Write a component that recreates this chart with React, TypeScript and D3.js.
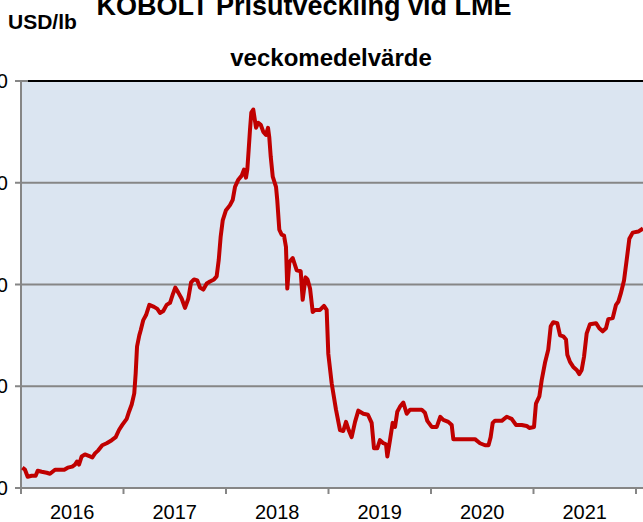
import { useRef, useEffect } from 'react';
import * as d3 from 'd3';

// decimal year of each reading
const weeks = [
  2016.013, 2016.039, 2016.065, 2016.104, 2016.143, 2016.163, 2016.202, 2016.251, 2016.283, 2016.332,
  2016.38, 2016.422, 2016.456, 2016.5, 2016.527, 2016.546, 2016.566, 2016.592, 2016.624, 2016.673,
  2016.696, 2016.722, 2016.754, 2016.793, 2016.836, 2016.885, 2016.924, 2016.956, 2016.988, 2017.031,
  2017.054, 2017.08, 2017.105, 2017.119, 2017.132, 2017.154, 2017.168, 2017.193, 2017.22, 2017.252,
  2017.298, 2017.33, 2017.356, 2017.388, 2017.421, 2017.454, 2017.48, 2017.505, 2017.535, 2017.568,
  2017.6, 2017.632, 2017.659, 2017.688, 2017.72, 2017.746, 2017.779, 2017.812, 2017.844, 2017.883,
  2017.909, 2017.929, 2017.948, 2017.968, 2018.0, 2018.039, 2018.065, 2018.088, 2018.12, 2018.153,
  2018.176, 2018.195, 2018.208, 2018.221, 2018.234, 2018.247, 2018.266, 2018.293, 2018.315, 2018.339,
  2018.364, 2018.39, 2018.41, 2018.422, 2018.436, 2018.456, 2018.488, 2018.5, 2018.52, 2018.543,
  2018.566, 2018.585, 2018.598, 2018.618, 2018.651, 2018.69, 2018.729, 2018.748, 2018.776, 2018.795,
  2018.82, 2018.846, 2018.868, 2018.917, 2018.956, 2018.982, 2018.998, 2019.031, 2019.073, 2019.112,
  2019.144, 2019.171, 2019.197, 2019.226, 2019.259, 2019.291, 2019.34, 2019.385, 2019.421, 2019.444,
  2019.476, 2019.502, 2019.535, 2019.561, 2019.574, 2019.6, 2019.626, 2019.649, 2019.671, 2019.698,
  2019.73, 2019.763, 2019.795, 2019.86, 2019.909, 2019.941, 2019.964, 2020.007, 2020.056, 2020.091,
  2020.12, 2020.169, 2020.202, 2020.218, 2020.283, 2020.429, 2020.478, 2020.527, 2020.561, 2020.582,
  2020.602, 2020.624, 2020.69, 2020.739, 2020.787, 2020.829, 2020.885, 2020.934, 2020.959, 2021.005,
  2021.024, 2021.057, 2021.08, 2021.112, 2021.144, 2021.168, 2021.193, 2021.232, 2021.259, 2021.291,
  2021.317, 2021.33, 2021.356, 2021.388, 2021.421, 2021.447, 2021.47, 2021.493, 2021.519, 2021.551,
  2021.61, 2021.642, 2021.675, 2021.707, 2021.73, 2021.773, 2021.805, 2021.827, 2021.851, 2021.883,
  2021.909, 2021.935, 2021.968, 2022.022, 2022.068,
];

// USD/lb
const price = [
  12.0, 11.8, 11.1, 11.2, 11.2, 11.7, 11.6, 11.5, 11.4, 11.8,
  11.8, 11.8, 12.0, 12.1, 12.3, 12.6, 12.3, 13.1, 13.3, 13.1,
  13.0, 13.4, 13.7, 14.2, 14.4, 14.7, 15.0, 15.7, 16.2, 16.8,
  17.5, 18.2, 19.3, 21.3, 23.9, 25.0, 25.5, 26.5, 27.0, 28.0,
  27.8, 27.6, 27.2, 27.4, 28.0, 28.2, 29.0, 29.7, 29.2, 28.6,
  27.7, 28.6, 30.2, 30.5, 30.4, 29.7, 29.5, 30.1, 30.3, 30.5,
  30.8, 32.4, 34.7, 36.3, 37.3, 37.8, 38.3, 39.6, 40.3, 40.7,
  41.3, 40.5, 41.3, 43.2, 45.2, 46.9, 47.2, 45.4, 45.9, 45.7,
  45.0, 44.7, 45.4, 44.5, 42.6, 40.6, 39.6, 38.3, 35.4, 34.9,
  34.8, 33.7, 29.6, 32.2, 32.6, 31.4, 31.3, 28.5, 30.7, 30.5,
  29.6, 27.3, 27.5, 27.5, 27.9, 27.5, 23.2, 20.3, 17.7, 15.7,
  15.6, 16.5, 15.7, 15.0, 16.5, 17.6, 17.3, 17.2, 16.4, 13.9,
  13.9, 14.7, 14.4, 14.3, 13.1, 14.7, 16.4, 16.0, 17.5, 18.0,
  18.4, 17.3, 17.7, 17.7, 17.7, 17.4, 16.6, 16.0, 16.0, 17.0,
  16.7, 16.5, 16.2, 14.8, 14.8, 14.8, 14.4, 14.2, 14.2, 15.0,
  16.4, 16.6, 16.6, 17.0, 16.8, 16.2, 16.2, 16.1, 15.9, 16.0,
  18.3, 19.0, 20.6, 22.3, 23.6, 25.9, 26.3, 26.2, 25.0, 24.9,
  24.6, 23.1, 22.4, 21.9, 21.6, 21.2, 21.6, 22.9, 25.2, 26.1,
  26.2, 25.7, 25.4, 25.7, 26.6, 26.7, 28.0, 28.3, 29.1, 30.4,
  32.4, 34.5, 35.1, 35.2, 35.5,
];

const years = ['2016', '2017', '2018', '2019', '2020', '2021'];
const yTicks = [10, 20, 30, 40, 50];

const W = 643;
const H = 522;
const plot = { left: 21, top: 81, right: 660, bottom: 488 };
const font = 'Liberation Sans, Arial, sans-serif';

const App = () => {
  const svgRef = useRef(null);

  useEffect(() => {
    const svg = d3.select(svgRef.current);
    svg.selectAll('*').remove();

    const x = d3.scaleLinear().domain([2016, 2022]).range([plot.left, 636]);
    const y = d3.scaleLinear().domain([10, 50]).range([plot.bottom, plot.top]);

    svg.append('rect').attr('width', W).attr('height', H).attr('fill', 'white');

    svg
      .append('rect')
      .attr('x', plot.left)
      .attr('y', plot.top)
      .attr('width', plot.right - plot.left)
      .attr('height', plot.bottom - plot.top)
      .attr('fill', '#dbe5f1');

    // horizontal gridlines + left ticks (labels sit mostly off the left edge, as in the source)
    yTicks.forEach((t) => {
      svg
        .append('line')
        .attr('x1', 15)
        .attr('x2', plot.right)
        .attr('y1', y(t))
        .attr('y2', y(t))
        .attr('stroke', '#868686')
        .attr('stroke-width', 2);
      svg
        .append('text')
        .attr('x', 8)
        .attr('y', y(t) + 7)
        .attr('text-anchor', 'end')
        .attr('font-family', font)
        .attr('font-size', 20)
        .attr('fill', 'black')
        .text(t);
    });

    // black top border
    svg
      .append('line')
      .attr('x1', 28)
      .attr('x2', plot.right)
      .attr('y1', plot.top)
      .attr('y2', plot.top)
      .attr('stroke', 'black')
      .attr('stroke-width', 2);

    // left axis
    svg
      .append('line')
      .attr('x1', plot.left)
      .attr('x2', plot.left)
      .attr('y1', plot.top)
      .attr('y2', plot.bottom + 6)
      .attr('stroke', '#868686')
      .attr('stroke-width', 2);

    // x ticks and year labels
    d3.range(2016, 2023).forEach((yr) => {
      svg
        .append('line')
        .attr('x1', x(yr))
        .attr('x2', x(yr))
        .attr('y1', plot.bottom)
        .attr('y2', plot.bottom + 6)
        .attr('stroke', '#868686')
        .attr('stroke-width', 2);
    });
    years.forEach((label, i) => {
      svg
        .append('text')
        .attr('x', x(2016 + i + 0.5))
        .attr('y', 519)
        .attr('text-anchor', 'middle')
        .attr('font-family', font)
        .attr('font-size', 20)
        .attr('fill', 'black')
        .text(label);
    });

    const line = d3
      .line<number>()
      .x((d) => x(d))
      .y((_, i) => y(price[i]));

    svg
      .append('path')
      .datum(weeks)
      .attr('fill', 'none')
      .attr('stroke', '#c00000')
      .attr('stroke-width', 4)
      .attr('stroke-linejoin', 'round')
      .attr('d', line);

    // bottom axis drawn over the line
    svg
      .append('line')
      .attr('x1', 15)
      .attr('x2', plot.right)
      .attr('y1', plot.bottom)
      .attr('y2', plot.bottom)
      .attr('stroke', '#868686')
      .attr('stroke-width', 2);

    // titles
    svg
      .append('text')
      .attr('x', 304)
      .attr('y', 15)
      .attr('text-anchor', 'middle')
      .attr('font-family', font)
      .attr('font-weight', 'bold')
      .attr('font-size', 27)
      .text('KOBOLT  Prisutveckling vid LME');
    svg
      .append('text')
      .attr('x', 331)
      .attr('y', 66)
      .attr('text-anchor', 'middle')
      .attr('font-family', font)
      .attr('font-weight', 'bold')
      .attr('font-size', 24)
      .text('veckomedelvärde');
    svg
      .append('text')
      .attr('x', 8)
      .attr('y', 29)
      .attr('font-family', font)
      .attr('font-weight', 'bold')
      .attr('font-size', 21)
      .text('USD/lb');
  }, []);

  return (
    <svg
      ref={svgRef}
      width={W}
      height={H}
      style={{ position: 'absolute', left: 0, top: 0 }}
    />
  );
};

export default App;
